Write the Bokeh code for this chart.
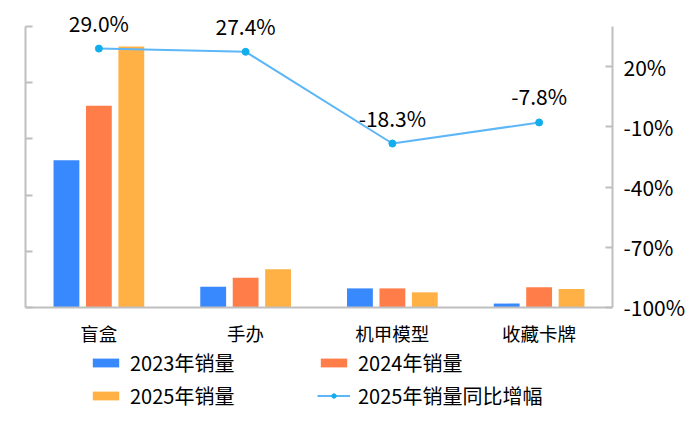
from bokeh.plotting import figure
from bokeh.models import (Range1d, LinearAxis, FixedTicker, ColumnDataSource,
                          LabelSet, Legend, LegendItem, FactorRange, Span)
from bokeh.core.properties import value
from bokeh.transform import dodge
from bokeh.embed import file_html
from bokeh.resources import INLINE

cats = ["盲盒", "手办", "机甲模型", "收藏卡牌"]
s2023 = [262, 37, 34, 7]
s2024 = [359, 53, 34, 36]
s2025 = [464, 68, 27, 33]
growth = [29.0, 27.4, -18.3, -7.8]
growth_labels = ["29.0%", "27.4%", "-18.3%", "-7.8%"]
left_ticks = [0, 100, 200, 300, 400, 500]
right_ticks = [-100, -70, -40, -10, 20]
right_tick_labels = ["-100%", "-70%", "-40%", "-10%", "20%"]

FONT = "Noto Sans CJK SC"
NUM_FS = "21px"
CAT_FS = "18.5px"
LEG_FS = "20px"
GREY = "#BFBFBF"

src = ColumnDataSource(dict(cat=cats, a=s2023, b=s2024, c=s2025,
                            g=growth, gl=growth_labels, z=[0] * len(cats)))

p = figure(x_range=FactorRange(*cats), y_range=Range1d(-211.6, 535.3),
           frame_width=587, frame_height=420,
           min_border_left=25, min_border_right=82, min_border_top=6,
           min_border_bottom=0, x_axis_location=None,
           output_backend="svg", toolbar_location=None)
p.outline_line_color = None
p.xgrid.visible = False
p.ygrid.visible = False

p.extra_y_ranges = {"right": Range1d(-159.3, 49.97)}

# left axis (ticks only, no labels)
ya = p.yaxis[0]
ya.ticker = FixedTicker(ticks=left_ticks)
ya.bounds = (0, 500)
ya.major_label_overrides = {t: "" for t in left_ticks}
ya.axis_line_color = GREY
ya.axis_line_width = 2
ya.major_tick_line_color = GREY
ya.major_tick_line_width = 2
ya.major_tick_in = 7
ya.major_tick_out = 0
ya.minor_tick_line_color = None

# right axis
ra = LinearAxis(y_range_name="right",
                ticker=FixedTicker(ticks=right_ticks),
                bounds=(-100, 40),
                major_label_overrides={t: l for t, l in zip(right_ticks, right_tick_labels)})
ra.axis_line_color = GREY
ra.axis_line_width = 2
ra.major_tick_line_color = GREY
ra.major_tick_line_width = 2
ra.major_tick_in = 7
ra.major_tick_out = 0
ra.minor_tick_line_color = None
ra.major_label_text_font = FONT
ra.major_label_text_font_size = NUM_FS
ra.major_label_text_color = "#000000"
ra.major_label_standoff = 11
p.add_layout(ra, "right")

# category baseline
p.add_layout(Span(location=0, dimension="width", line_color=GREY, line_width=2))

w = 0.176
off = 0.221
r1 = p.vbar(x=dodge("cat", -off, range=p.x_range), top="a", width=w, source=src,
            color="#3888FE", line_color=None)
r2 = p.vbar(x=dodge("cat", 0, range=p.x_range), top="b", width=w, source=src,
            color="#FF7D48", line_color=None)
r3 = p.vbar(x=dodge("cat", off, range=p.x_range), top="c", width=w, source=src,
            color="#FFB146", line_color=None)
rl = p.line(x="cat", y="g", source=src, y_range_name="right",
            line_color="#5DB6F8", line_width=2)
rs = p.scatter(x="cat", y="g", source=src, y_range_name="right",
               size=7, fill_color="#12AEEB", line_color="#12AEEB")

labels = LabelSet(x="cat", y="g", text="gl", source=src, y_range_name="right",
                  text_font=value(FONT), text_font_size=value(NUM_FS),
                  text_color="#000000",
                  text_align="center", text_baseline="alphabetic", y_offset=17)
p.add_layout(labels)

cat_labels = LabelSet(x="cat", y="z", text="cat", source=src,
                      text_font=value(FONT), text_font_size=value(CAT_FS),
                      text_color="#000000",
                      text_align="center", text_baseline="middle", y_offset=-25)
p.add_layout(cat_labels)

legend = Legend(items=[LegendItem(label="2023年销量", renderers=[r1]),
                       LegendItem(label="2025年销量", renderers=[r3]),
                       LegendItem(label="2024年销量", renderers=[r2]),
                       LegendItem(label="2025年销量同比增幅", renderers=[rl, rs])],
                ncols=2, location=(64, 16),
                glyph_width=33, glyph_height=11, label_standoff=8,
                label_width=184, label_height=30,
                label_text_font=FONT, label_text_font_size=LEG_FS,
                label_text_color="#000000", spacing=3, padding=0, margin=0,
                border_line_color=None, background_fill_alpha=0)
p.add_layout(legend, "center")

open("out.html", "w").write(file_html(p, INLINE))
